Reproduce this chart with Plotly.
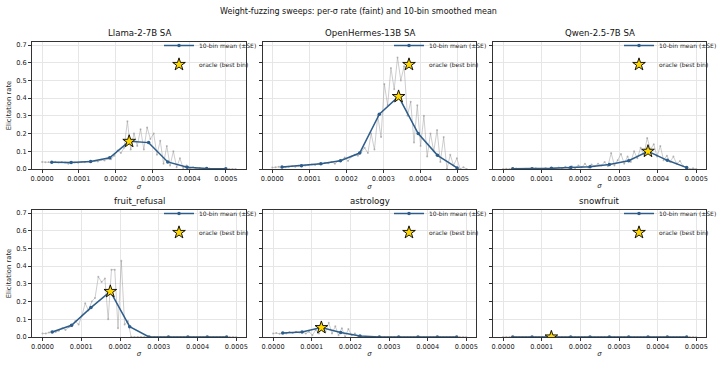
import numpy as np
import plotly.graph_objects as go

# ---------------- data ----------------
titles = ["Llama-2-7B SA", "OpenHermes-13B SA", "Qwen-2.5-7B SA",
          "fruit_refusal", "astrology", "snowfruit"]
sigma_max = [0.000527, 0.000525, 0.0005, 0.0005, 0.0005, 0.0005]
x_ranges = [[-0.0000275, 0.000555], [-0.000025, 0.00055], [-0.000026, 0.000525],
            [-0.000027, 0.000525], [-0.000026, 0.000525], [-0.000026, 0.000525]]

llama_rate = [0.040, 0.038, 0.040, 0.036, 0.041, 0.037, 0.039, 0.036, 0.030, 0.040,
              0.037, 0.035, 0.040, 0.038, 0.043, 0.040, 0.045, 0.042, 0.052, 0.048,
              0.058, 0.055, 0.075, 0.105, 0.090, 0.120, 0.270, 0.110, 0.200, 0.130,
              0.225, 0.110, 0.235, 0.170, 0.200, 0.080, 0.160, 0.030, 0.130, 0.020,
              0.100, 0.010, 0.060, 0.005, 0.020, 0.000, 0.010, 0.000, 0.005, 0.000,
              0.000, 0.003, 0.000, 0.000, 0.000, 0.000, 0.002, 0.000, 0.000, 0.000]
hermes_rate = [0.008, 0.010, 0.012, 0.008, 0.010, 0.012, 0.015, 0.012, 0.018, 0.016,
               0.020, 0.022, 0.025, 0.022, 0.030, 0.028, 0.035, 0.032, 0.040, 0.030,
               0.045, 0.050, 0.065, 0.045, 0.070, 0.080, 0.075, 0.095, 0.120, 0.090,
               0.200, 0.110, 0.300, 0.180, 0.480, 0.360, 0.570, 0.450, 0.630, 0.500,
               0.580, 0.300, 0.380, 0.150, 0.360, 0.130, 0.300, 0.070, 0.200, 0.100,
               0.220, 0.040, 0.180, 0.000, 0.080, 0.020, 0.060, 0.000, 0.010, 0.000]
qwen_rate = [0.000, 0.002, 0.000, 0.000, 0.003, 0.000, 0.000, 0.002, 0.000, 0.000,
             0.004, 0.000, 0.002, 0.005, 0.000, 0.006, 0.003, 0.008, 0.004, 0.012,
             0.006, 0.015, 0.005, 0.020, 0.010, 0.030, 0.008, 0.025, 0.015, 0.030,
             0.020, 0.040, 0.015, 0.090, 0.020, 0.050, 0.085, 0.030, 0.070, 0.040,
             0.100, 0.060, 0.120, 0.080, 0.175, 0.110, 0.140, 0.070, 0.130, 0.050,
             0.075, 0.040, 0.070, 0.030, 0.045, 0.015, 0.010, 0.000, 0.004, 0.000]
fruit_rate = [0.020, 0.020, 0.025, 0.030, 0.028, 0.035, 0.050, 0.040, 0.055, 0.060,
              0.090, 0.070, 0.120, 0.190, 0.150, 0.200, 0.220, 0.340, 0.310, 0.330,
              0.100, 0.380, 0.380, 0.050, 0.430, 0.070, 0.090, 0.000, 0.000, 0.000,
              0.000, 0.000, 0.000, 0.000, 0.000, 0.000, 0.000, 0.000, 0.000, 0.000,
              0.000, 0.000, 0.000, 0.000, 0.000, 0.000, 0.000, 0.000, 0.000, 0.000,
              0.000, 0.000, 0.000, 0.000, 0.000, 0.000, 0.000, 0.000, 0.000, 0.000]
astro_rate = [0.020, 0.022, 0.018, 0.025, 0.020, 0.028, 0.022, 0.030, 0.025, 0.028,
              0.020, 0.030, 0.010, 0.040, 0.020, 0.070, 0.030, 0.080, 0.020, 0.060,
              0.010, 0.050, 0.000, 0.045, 0.010, 0.020, 0.000, 0.000, 0.000, 0.000,
              0.000, 0.000, 0.000, 0.000, 0.000, 0.000, 0.000, 0.000, 0.000, 0.000,
              0.000, 0.000, 0.000, 0.000, 0.000, 0.000, 0.000, 0.000, 0.000, 0.000,
              0.000, 0.000, 0.000, 0.000, 0.000, 0.000, 0.000, 0.000, 0.000, 0.000]
snow_rate = [0.000, 0.000, 0.000, 0.000, 0.000, 0.000, 0.000, 0.000, 0.000, 0.000,
             0.000, 0.000, 0.000, 0.000, 0.000, 0.000, 0.000, 0.000, 0.000, 0.000,
             0.000, 0.000, 0.000, 0.000, 0.000, 0.000, 0.000, 0.000, 0.000, 0.000,
             0.000, 0.000, 0.000, 0.000, 0.000, 0.000, 0.000, 0.000, 0.000, 0.000,
             0.000, 0.000, 0.000, 0.000, 0.000, 0.000, 0.000, 0.000, 0.000, 0.000,
             0.000, 0.000, 0.000, 0.000, 0.000, 0.000, 0.000, 0.000, 0.000, 0.000]

llama_bin_sigma = [0.0000263, 0.000079, 0.000132, 0.000184, 0.000237,
                   0.000290, 0.000342, 0.000395, 0.000448, 0.000500]
llama_bin_mean = [0.038, 0.037, 0.043, 0.063, 0.156, 0.149, 0.040, 0.010, 0.003, 0.002]
hermes_bin_sigma = [0.0000263, 0.0000788, 0.000131, 0.000184, 0.000236,
                    0.000289, 0.000341, 0.000394, 0.000446, 0.000499]
hermes_bin_mean = [0.011, 0.019, 0.030, 0.047, 0.090, 0.309, 0.409, 0.200, 0.077, 0.006]
std_bin_sigma = [0.000025, 0.000075, 0.000125, 0.000175, 0.000225,
                 0.000275, 0.000325, 0.000375, 0.000425, 0.000475]
qwen_bin_mean = [0.002, 0.002, 0.004, 0.008, 0.013, 0.026, 0.047, 0.100, 0.049, 0.008]
fruit_bin_mean = [0.028, 0.066, 0.166, 0.257, 0.058, 0.000, 0.000, 0.000, 0.000, 0.000]
astro_bin_mean = [0.023, 0.028, 0.053, 0.025, 0.006, 0.000, 0.000, 0.000, 0.000, 0.000]
snow_bin_mean = [0.000, 0.000, 0.000, 0.000, 0.000, 0.000, 0.000, 0.000, 0.000, 0.000]

oracle_sigma = [0.000237, 0.000341, 0.000375, 0.000175, 0.000125, 0.000125]
oracle_rate = [0.156, 0.409, 0.100, 0.257, 0.053, 0.000]

rates = [llama_rate, hermes_rate, qwen_rate, fruit_rate, astro_rate, snow_rate]
bin_sigmas = [llama_bin_sigma, hermes_bin_sigma, std_bin_sigma,
              std_bin_sigma, std_bin_sigma, std_bin_sigma]
bin_means = [llama_bin_mean, hermes_bin_mean, qwen_bin_mean,
             fruit_bin_mean, astro_bin_mean, snow_bin_mean]

# ---------------- layout geometry ----------------
W, H = 717, 385
ML, MR, MT, MB = 32, 11, 42, 48
pw = W - ML - MR
ph = H - MT - MB
col_px = [(32, 246), (263, 476), (493, 706)]
row_px = [(42, 169), (210, 337)]
xdom = [[(a - ML) / pw, (b - ML) / pw] for a, b in col_px]
ydom = [[(H - MB - b) / ph, (H - MB - a) / ph] for a, b in row_px]

FONT = "DejaVu Sans"
MEAN_C = "#2d5d8b"
fig = go.Figure()

for i in range(6):
    r, c = divmod(i, 3)
    k = i + 1
    xa = "x" if k == 1 else f"x{k}"
    ya = "y" if k == 1 else f"y{k}"
    lg = "legend" if k == 1 else f"legend{k}"
    sig = np.linspace(0.0, sigma_max[i], len(rates[i]))
    fig.add_trace(go.Scatter(
        x=sig, y=rates[i], mode="lines+markers", xaxis=xa, yaxis=ya,
        line=dict(color="rgba(150,150,150,0.6)", width=0.8),
        marker=dict(size=2, color="rgba(150,150,150,0.6)"),
        showlegend=False, hoverinfo="skip"))
    fig.add_trace(go.Scatter(
        x=bin_sigmas[i], y=bin_means[i], mode="lines+markers", xaxis=xa, yaxis=ya,
        line=dict(color=MEAN_C, width=1.5),
        marker=dict(size=3.5, color=MEAN_C),
        name="10-bin mean (±SE)", legend=lg))
    fig.add_trace(go.Scatter(
        x=[oracle_sigma[i]], y=[oracle_rate[i]], mode="markers", xaxis=xa, yaxis=ya,
        marker=dict(symbol="star", size=9.5, color="#FFD700",
                    line=dict(color="black", width=0.9)),
        name="oracle (best bin)", legend=lg))

    axis_common = dict(showline=True, mirror=True, linecolor="#333333", linewidth=1,
                       showgrid=True, gridcolor="#e6e6e6", gridwidth=0.7,
                       zeroline=False, ticks="outside", ticklen=3, tickwidth=0.8,
                       tickcolor="#333333",
                       tickfont=dict(family=FONT, size=6.6, color="#222222"))
    xkey = "xaxis" if k == 1 else f"xaxis{k}"
    ykey = "yaxis" if k == 1 else f"yaxis{k}"
    fig.update_layout({
        xkey: dict(domain=xdom[c], anchor=ya, range=x_ranges[i],
                   tickvals=[0.0, 0.0001, 0.0002, 0.0003, 0.0004, 0.0005],
                   tickformat=".4f",
                   title=dict(text="<i>σ</i>", font=dict(family=FONT, size=6.8,
                                                         color="#222222"),
                              standoff=1),
                   **axis_common),
        ykey: dict(domain=ydom[r], anchor=xa, range=[0, 0.717],
                   tickvals=[0, 0.1, 0.2, 0.3, 0.4, 0.5, 0.6, 0.7],
                   tickformat=".1f", showticklabels=(c == 0),
                   title=dict(text="Elicitation rate" if c == 0 else "",
                              font=dict(family=FONT, size=6.8, color="#222222"),
                              standoff=3),
                   **axis_common),
        lg: dict(x=xdom[c][1] + 16 / pw, y=ydom[r][1] + 11 / ph,
                 xanchor="right", yanchor="top", xref="paper", yref="paper",
                 bgcolor="rgba(255,255,255,0)", borderwidth=0,
                 font=dict(family=FONT, size=6.0, color="#222222"),
                 itemwidth=30, tracegroupgap=0, itemsizing="trace"),
    })
    fig.add_annotation(text=titles[i], xref="paper", yref="paper",
                       x=(xdom[c][0] + xdom[c][1]) / 2, y=ydom[r][1],
                       xanchor="center", yanchor="bottom", yshift=2,
                       showarrow=False,
                       font=dict(family=FONT, size=8.6, color="#111111"))

fig.update_layout(
    width=W, height=H,
    margin=dict(l=ML, r=MR, t=MT, b=MB, autoexpand=False),
    paper_bgcolor="white", plot_bgcolor="white",
    title=dict(text="Weight-fuzzing sweeps: per-σ rate (faint) and 10-bin smoothed mean",
               x=0.5, xanchor="center", y=1 - 11 / H, yanchor="middle",
               font=dict(family=FONT, size=8, color="#111111")),
    font=dict(family=FONT),
)

fig.write_html("out.html")
